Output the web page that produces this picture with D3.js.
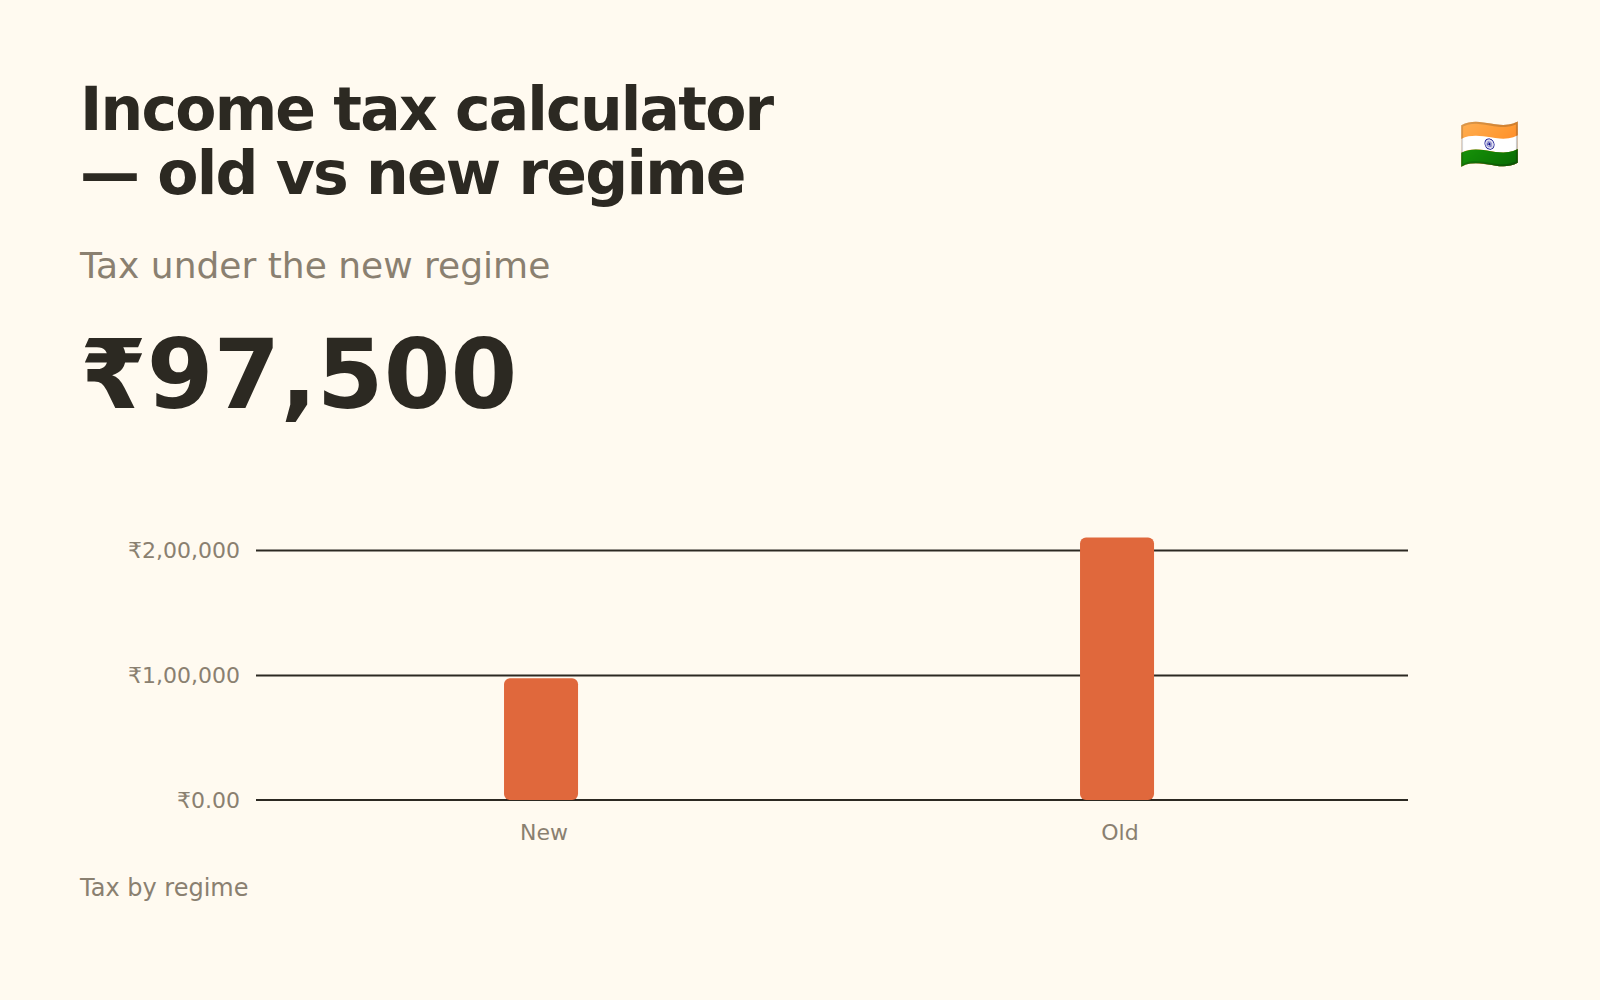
<!DOCTYPE html>
<html><head><meta charset="utf-8">
<script src="https://cdn.jsdelivr.net/npm/d3@7/dist/d3.min.js"></script>
<style>html,body{margin:0;padding:0;background:#fffaf0;overflow:hidden}svg{display:block;font-family:"DejaVu Sans",sans-serif}</style>
</head><body><div id="c"></div>
<script>
const titleLines = ["Income tax calculator", "— old vs new regime"];
const subtitle = "Tax under the new regime";
const bigValue = "₹97,500";
const flag = "🇮🇳";
const footer = "Tax by regime";
const categories = ["New", "Old"];
const taxValues = [97500, 210000];
const tickValues = [0, 100000, 200000];
const tickLabels = ["₹0.00", "₹1,00,000", "₹2,00,000"];

const ink = "#2c2922", grey = "#8a8070", barColor = "#e0683c";
const svg = d3.select("#c").append("svg").attr("width", 1600).attr("height", 1000);
svg.append("rect").attr("width", 1600).attr("height", 1000).attr("fill", "#fffaf0");

svg.selectAll("text.title").data(titleLines).join("text").attr("class", "title")
  .attr("x", 80).attr("y", (d, i) => 130 + i * 64)
  .attr("font-size", 60).attr("letter-spacing", "-1.8px").attr("font-weight", 700).attr("fill", ink).text(d => d);
svg.append("text").attr("x", 80).attr("y", 278).attr("font-size", 36).attr("fill", grey).text(subtitle);
svg.append("text").attr("x", 80).attr("y", 408).attr("font-size", 96).attr("font-weight", 700).attr("fill", ink).text(bigValue);
svg.append("text").attr("text-anchor", "middle").attr("font-size", 50)
  .attr("transform", "translate(1490,161.5) scale(0.98,1.05)")
  .attr("font-family", "'Noto Color Emoji',sans-serif").text(flag);
svg.append("text").attr("x", 80).attr("y", 896).attr("font-size", 24).attr("fill", grey).text(footer);

const x = d3.scaleBand().domain(categories).range([256, 1408]);
const y = d3.scaleLinear().domain([0, 200000]).range([800, 550]);

const yAxis = svg.append("g").attr("transform", "translate(256,0)")
  .call(d3.axisLeft(y).tickValues(tickValues).tickSize(0).tickPadding(16)
    .tickFormat(d => tickLabels[tickValues.indexOf(d)]));
yAxis.select(".domain").remove();
yAxis.selectAll("text").attr("font-family", "'DejaVu Sans',sans-serif").attr("font-size", 22).attr("fill", grey);
yAxis.selectAll("line").attr("x2", 1152).attr("stroke", ink).attr("stroke-width", 2);
yAxis.selectAll(".tick").filter(d => d === 0).select("line").attr("transform", "translate(0,-0.5)");

svg.selectAll("rect.bar").data(taxValues).join("rect").attr("class", "bar")
  .attr("x", (d, i) => x(categories[i]) + x.bandwidth() * 0.4306)
  .attr("width", x.bandwidth() * 0.1285)
  .attr("y", d => y(d)).attr("height", d => y(0) - y(d))
  .attr("rx", 6).attr("fill", barColor);

const xAxis = svg.append("g").attr("transform", "translate(0,800)")
  .call(d3.axisBottom(x).tickSize(0).tickPadding(24));
xAxis.select(".domain").remove();
xAxis.selectAll("text").attr("font-family", "'DejaVu Sans',sans-serif").attr("font-size", 22).attr("fill", grey);
</script></body></html>
